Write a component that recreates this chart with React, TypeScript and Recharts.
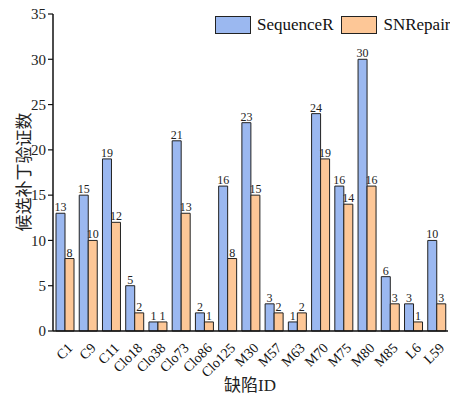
import { BarChart, Bar, XAxis, YAxis, LabelList } from 'recharts'

const bugIds = ['C1', 'C9', 'C11', 'Clo18', 'Clo38', 'Clo73', 'Clo86', 'Clo125', 'M30', 'M57', 'M63', 'M70', 'M75', 'M80', 'M85', 'L6', 'L59']
const sequenceR = [13, 15, 19, 5, 1, 21, 2, 16, 23, 3, 1, 24, 16, 30, 6, 3, 10]
const snRepair = [8, 10, 12, 2, 1, 13, 1, 8, 15, 2, 2, 19, 14, 16, 3, 1, 3]
const yTicks = [0, 5, 10, 15, 20, 25, 30, 35]

const data = bugIds.map((id, i) => ({ id, sequenceR: sequenceR[i], snRepair: snRepair[i] }))

const serif = '"Liberation Serif", "Times New Roman", serif'
const cjk = '"Noto Sans CJK SC", sans-serif'
const blue = '#9bb8f0'
const orange = '#fdc797'

const XTick = (props: any) => {
  const { x, y, payload } = props
  return (
    <g transform={`translate(${x + 6},${y + 7})`}>
      <text transform="rotate(-45)" textAnchor="end" dy={4} fontSize={14} fontFamily={serif} fill="#111">
        {payload.value}
      </text>
    </g>
  )
}

export default function App() {
  return (
    <div style={{ position: 'absolute', left: 0, top: 0, width: 450, height: 395, background: '#fff' }}>
      <BarChart
        width={450}
        height={395}
        data={data}
        margin={{ top: 14, right: 2, bottom: 0, left: 0 }}
        barGap={0}
        barSize={9}
      >
        <XAxis
          dataKey="id"
          height={64}
          tickLine={false}
          axisLine={{ stroke: '#111', strokeWidth: 1.5 }}
          tick={<XTick />}
          interval={0}
        />
        <YAxis
          width={53}
          domain={[0, 35]}
          ticks={yTicks}
          tickSize={5}
          tickLine={{ stroke: '#111', strokeWidth: 1.2 }}
          axisLine={{ stroke: '#111', strokeWidth: 1.5 }}
          tick={{ fontSize: 15, fontFamily: serif, fill: '#222' }}
          interval={0}
        />
        <Bar dataKey="sequenceR" fill={blue} stroke="#222" strokeWidth={1} isAnimationActive={false}>
          <LabelList dataKey="sequenceR" position="top" offset={2} style={{ fontSize: 12, fontFamily: serif, fill: '#222' }} />
        </Bar>
        <Bar dataKey="snRepair" fill={orange} stroke="#222" strokeWidth={1} isAnimationActive={false}>
          <LabelList dataKey="snRepair" position="top" offset={2} style={{ fontSize: 12, fontFamily: serif, fill: '#222' }} />
        </Bar>
      </BarChart>
      <div style={{ position: 'absolute', left: 215, top: 15, display: 'flex', alignItems: 'center', fontFamily: serif, fontSize: 17, color: '#111' }}>
        <span style={{ width: 36, height: 18, background: blue, border: '1px solid #222', boxSizing: 'border-box', marginRight: 6 }} />
        <span style={{ marginRight: 8 }}>SequenceR</span>
        <span style={{ width: 36, height: 18, background: orange, border: '1px solid #222', boxSizing: 'border-box', marginRight: 6 }} />
        <span>SNRepair</span>
      </div>
      <div style={{ position: 'absolute', left: 22, top: 172, transform: 'translate(-50%,-50%) rotate(-90deg)', whiteSpace: 'nowrap', fontFamily: cjk, fontSize: 17, color: '#222' }}>
        候选补丁验证数
      </div>
      <div style={{ position: 'absolute', left: 250, top: 383, transform: 'translate(-50%,-50%)', whiteSpace: 'nowrap', fontFamily: `${serif}, ${cjk}`, fontSize: 17, color: '#222' }}>
        缺陷ID
      </div>
    </div>
  )
}
